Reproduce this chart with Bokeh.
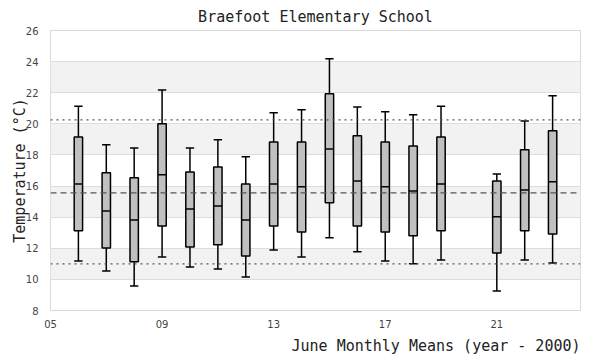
from bokeh.plotting import figure
from bokeh.models import FixedTicker, Span, ColumnDataSource, Title
from bokeh.embed import file_html
from bokeh.resources import INLINE

years = [6, 7, 8, 9, 10, 11, 12, 13, 14, 15, 16, 17, 18, 19, 21, 22, 23]
high = [21.13, 18.65, 18.45, 22.18, 18.45, 18.97, 17.88, 20.71, 20.90, 24.18, 21.09, 20.77, 20.58, 21.13, 16.78, 20.19, 21.80]
q3 = [19.16, 16.85, 16.53, 20.00, 16.91, 17.23, 16.14, 18.84, 18.84, 21.93, 19.23, 18.84, 18.58, 19.16, 16.33, 18.33, 19.55]
median = [16.14, 14.40, 13.82, 16.72, 14.53, 14.72, 13.82, 16.14, 15.95, 18.39, 16.33, 15.95, 15.69, 16.14, 14.02, 15.75, 16.27]
q1 = [13.12, 12.02, 11.14, 13.44, 12.09, 12.22, 11.51, 13.44, 13.05, 14.92, 13.44, 13.05, 12.80, 13.12, 11.70, 13.12, 12.92]
low = [11.19, 10.54, 9.58, 11.44, 10.80, 10.67, 10.16, 11.89, 11.44, 12.67, 11.77, 11.19, 11.00, 11.25, 9.26, 11.25, 11.06]

overall_mean = 15.56
upper_limit = 20.25
lower_limit = 11.00

x_ticks = [5, 9, 13, 17, 21]
x_tick_labels = ["05", "09", "13", "17", "21"]
y_ticks = [8, 10, 12, 14, 16, 18, 20, 22, 24, 26]

W = 0.3
src = ColumnDataSource(dict(
    x=years, high=high, q3=q3, med=median, q1=q1, low=low,
    xl=[y - W / 2 for y in years], xr=[y + W / 2 for y in years],
))

p = figure(width=600, height=360, x_range=(5, 24), y_range=(8, 26),
           output_backend="svg", toolbar_location=None,
           title="Braefoot Elementary School",
           min_border_left=50, min_border_right=20, min_border_top=30, min_border_bottom=50)

p.title.align = "center"
p.title.text_font = "DejaVu Sans Mono"
p.title.text_font_size = "15px"
p.title.text_font_style = "normal"
p.title.text_color = "#222222"
p.title.standoff = 9
p.title.offset = 0

p.outline_line_color = "#d9d9d9"
p.outline_line_width = 1

p.xgrid.grid_line_color = None
p.ygrid.grid_line_color = "#dddddd"
p.ygrid.band_fill_color = "#f2f2f2"
p.ygrid.band_fill_alpha = 1.0

p.xaxis.ticker = FixedTicker(ticks=x_ticks)
p.xaxis.major_label_overrides = dict(zip(x_ticks, x_tick_labels))
p.yaxis.ticker = FixedTicker(ticks=y_ticks)

for ax in (p.xaxis, p.yaxis):
    ax.axis_line_color = None
    ax.major_tick_line_color = None
    ax.minor_tick_line_color = None
    ax.major_tick_out = 0
    ax.major_tick_in = 0
    ax.minor_tick_out = 0
    ax.major_label_text_font = "DejaVu Sans"
    ax.major_label_text_font_size = "10px"
    ax.major_label_text_color = "#444444"
    ax.axis_label_text_font = "DejaVu Sans Mono"
    ax.axis_label_text_font_size = "15px"
    ax.axis_label_text_font_style = "normal"
    ax.axis_label_text_color = "#222222"

p.xaxis.major_label_standoff = 9

p.yaxis.axis_label = "Temperature (°C)"
p.yaxis.major_label_standoff = 12
p.yaxis.axis_label_standoff = -6

xt = Title(text="June Monthly Means (year - 2000)", align="right",
           text_font="DejaVu Sans Mono", text_font_size="15px",
           text_font_style="normal", text_color="#222222", standoff=8)
p.add_layout(xt, "below")

for val, dash in ((upper_limit, "2 4"), (overall_mean, "6 4"), (lower_limit, "2 4")):
    p.add_layout(Span(location=val, dimension="width", line_color="#555555",
                      line_width=1.2, line_dash=dash))

lw = 1.5
p.segment(x0="x", y0="q3", x1="x", y1="high", source=src, line_color="black", line_width=lw)
p.segment(x0="x", y0="low", x1="x", y1="q1", source=src, line_color="black", line_width=lw)
p.segment(x0="xl", y0="high", x1="xr", y1="high", source=src, line_color="black", line_width=lw)
p.segment(x0="xl", y0="low", x1="xr", y1="low", source=src, line_color="black", line_width=lw)
p.vbar(x="x", width=W, bottom="q1", top="q3", source=src,
       fill_color="#c0c0c0", line_color="black", line_width=lw)
p.segment(x0="xl", y0="med", x1="xr", y1="med", source=src, line_color="black", line_width=lw)

open("out.html", "w").write(file_html(p, INLINE))
